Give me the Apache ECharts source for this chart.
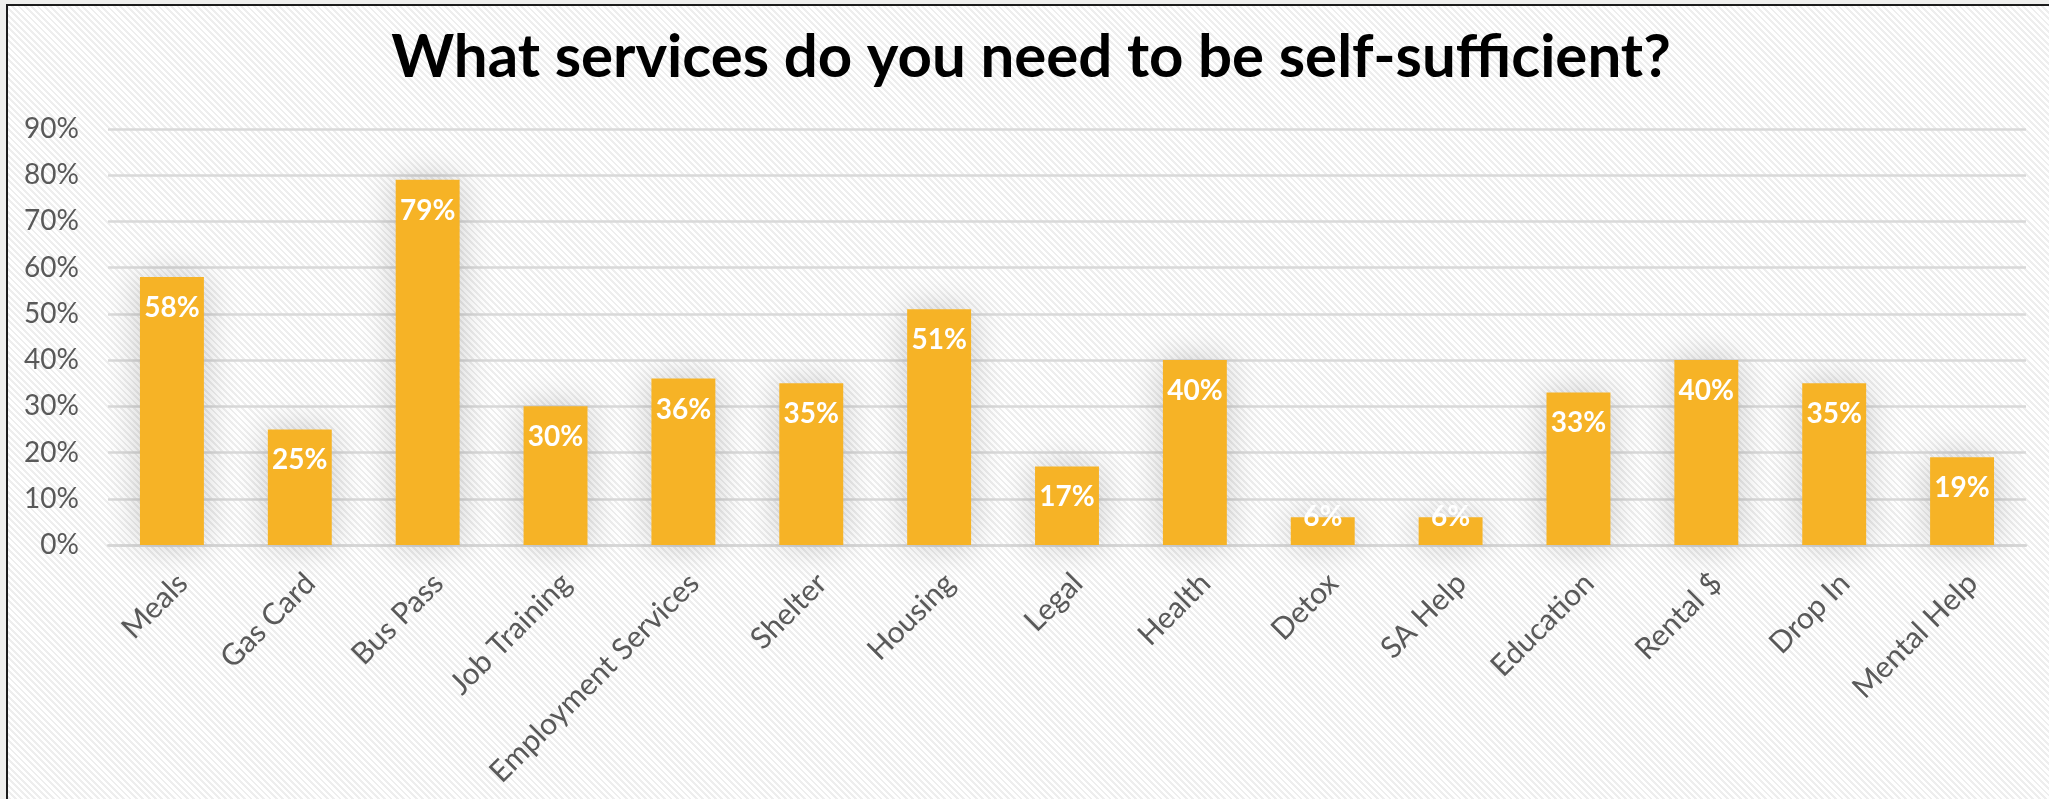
<!DOCTYPE html>
<html>
<head>
<meta charset="utf-8">
<script src="https://cdn.jsdelivr.net/npm/echarts@6/dist/echarts.min.js"></script>
<style>
  html, body { margin: 0; padding: 0; background: #efefed; overflow: hidden; }
  #frame {
    position: absolute; left: 6px; top: 4px; width: 2100px; height: 860px;
    border-left: 2px solid #1c1c1c; border-top: 2px solid #1c1c1c;
    background: repeating-linear-gradient(45deg, #ffffff 0px, #ffffff 2.5px, #eeeeee 2.5px, #eeeeee 4.5px);
  }
  #chart { position: absolute; left: 0; top: 0; width: 2049px; height: 799px; }
</style>
</head>
<body>
<div id="frame"></div>
<div id="chart"></div>
<script>
// Survey: services respondents say they need to become self-sufficient
const titleText = 'What services do you need to be self-sufficient?';
const categories = ['Meals', 'Gas Card', 'Bus Pass', 'Job Training', 'Employment Services',
  'Shelter', 'Housing', 'Legal', 'Health', 'Detox', 'SA Help', 'Education',
  'Rental $', 'Drop In', 'Mental Help'];
const shares = [58, 25, 79, 30, 36, 35, 51, 17, 40, 6, 6, 33, 40, 35, 19];
const yMin = 0, yMax = 90, yStep = 10;

// Size the title so it spans the intended width
const ctx = document.createElement('canvas').getContext('2d');
ctx.font = 'bold 100px Lato';
const titleSize = Math.round(100 * 1288 / ctx.measureText(titleText).width);

// Short bars carry their value label centred on the bar's top edge
const barData = shares.map(v => v < 10
  ? { value: v, label: { position: ['50%', 0] } }
  : v);

const chart = echarts.init(document.getElementById('chart'), null, { renderer: 'canvas' });
chart.setOption({
  backgroundColor: 'transparent',
  animation: false,
  graphic: [{
    type: 'text',
    x: 1031,
    y: 81 - 0.387 * titleSize,
    style: {
      text: titleText,
      font: 'bold ' + titleSize + 'px Lato',
      fill: '#000000',
      align: 'center',
      verticalAlign: 'middle'
    }
  }],
  grid: { left: 108, right: 23, top: 129, bottom: 254 },
  xAxis: {
    type: 'category',
    data: categories,
    axisLine: { lineStyle: { color: '#d6d6d6', width: 2.5 } },
    axisTick: { show: false },
    axisLabel: {
      interval: 0, rotate: 45, margin: 44,
      padding: [0, -15, 0, 0],
      fontFamily: 'Lato', fontSize: 30, color: '#595959'
    }
  },
  yAxis: {
    type: 'value',
    min: yMin, max: yMax, interval: yStep,
    axisLine: { show: false },
    axisTick: { show: false },
    splitLine: { lineStyle: { color: '#d9d9d9', width: 2.5 } },
    axisLabel: {
      formatter: '{value}%', margin: 29,
      fontFamily: 'Lato', fontSize: 28, color: '#595959'
    }
  },
  series: [{
    type: 'bar',
    data: barData,
    barCategoryGap: '50%',
    itemStyle: {
      color: '#F6B326',
      shadowBlur: 34,
      shadowColor: 'rgba(0,0,0,0.2)'
    },
    label: {
      show: true,
      position: ['50%', 31],
      align: 'center',
      verticalAlign: 'middle',
      formatter: '{c}%',
      fontFamily: 'Lato', fontWeight: 'bold', fontSize: 28, color: '#ffffff'
    }
  }]
});
</script>
</body>
</html>
